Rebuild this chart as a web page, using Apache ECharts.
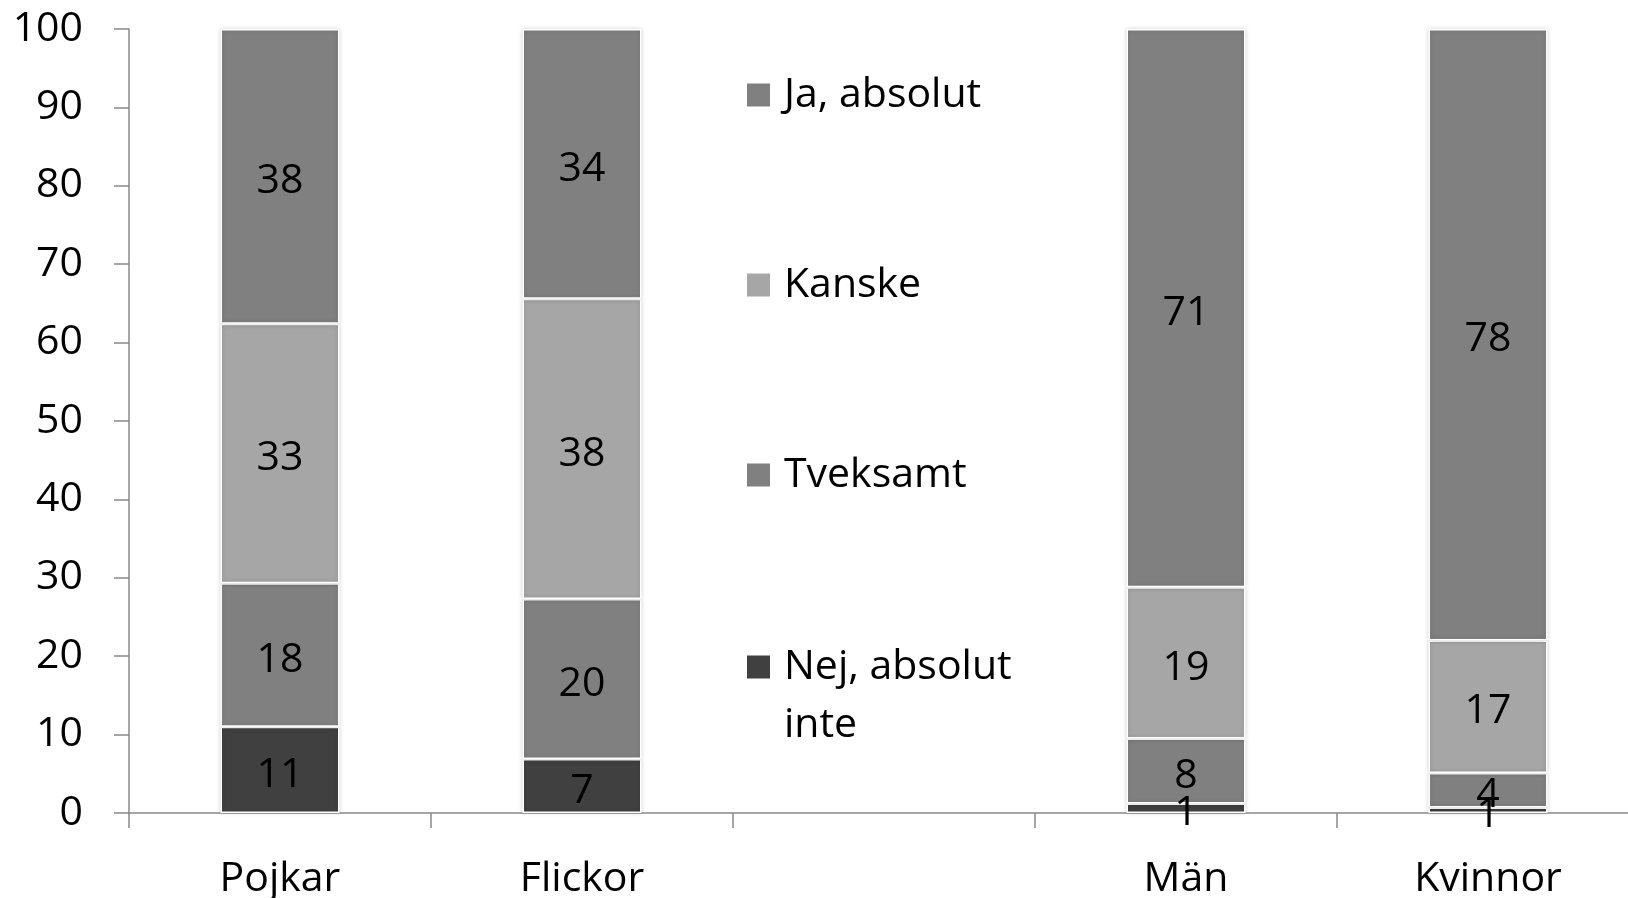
<!DOCTYPE html>
<html>
<head>
<meta charset="utf-8">
<script src="https://cdn.jsdelivr.net/npm/echarts@6/dist/echarts.min.js"></script>
<style>
  html, body { margin: 0; padding: 0; background: #fff; }
  #chart { width: 1628px; height: 898px; }
</style>
</head>
<body>
<div id="chart"></div>
<script>
const categories = ['Pojkar', 'Flickor', '', 'Män', 'Kvinnor']
// segment values, bottom to top (empty slot holds the legend)
const nejAbsolutInte = [11.0, 6.9, null, 1.2, 0.7]
const tveksamt = [18.3, 20.4, null, 8.3, 4.4]
const kanske = [33.1, 38.3, null, 19.3, 16.9]
const jaAbsolut = [37.6, 34.4, null, 71.2, 78.0]
const yTicks = [0, 10, 20, 30, 40, 50, 60, 70, 80, 90, 100]

const FONT = 'Open Sans'
const chart = echarts.init(document.getElementById('chart'))

const makeSeries = (name, data, color) => ({
  name,
  type: 'bar',
  stack: 'total',
  data,
  barWidth: 119,
  itemStyle: {
    color,
    borderColor: '#fff',
    borderWidth: 1.5,
    shadowBlur: 4,
    shadowColor: 'rgba(0,0,0,0.18)'
  },
  label: {
    show: true,
    position: 'inside',
    color: '#000',
    fontFamily: FONT,
    fontSize: 41,
    offset: [0, 5],
    formatter: p => Math.round(p.value)
  }
})

const legendText = { fontFamily: FONT, fontSize: 41, color: '#000', lineHeight: 58, padding: [0, 0, 0, 8] }

chart.setOption({
  animation: false,
  grid: { left: 129, top: 29, width: 1510, height: 784, outerBoundsMode: 'none' },
  legend: [
    {
      data: ['Ja, absolut', 'Kanske', 'Tveksamt'],
      orient: 'vertical',
      left: 745,
      top: 66,
      padding: 0,
      itemWidth: 25,
      itemHeight: 25,
      itemGap: 132,
      icon: 'rect',
      textStyle: legendText
    },
    {
      data: ['Nej, absolut inte'],
      orient: 'vertical',
      left: 745,
      top: 580,
      padding: 0,
      itemWidth: 25,
      itemHeight: 25,
      icon: 'rect',
      formatter: () => '\nNej, absolut\ninte',
      textStyle: legendText
    }
  ],
  xAxis: {
    type: 'category',
    data: categories,
    axisLine: { lineStyle: { color: '#898989', width: 1.5 } },
    axisTick: { show: true, length: 15, lineStyle: { color: '#898989', width: 1.5 } },
    axisLabel: { color: '#000', fontFamily: FONT, fontSize: 41, margin: 46 }
  },
  yAxis: {
    type: 'value',
    min: yTicks[0],
    max: yTicks[yTicks.length - 1],
    interval: 10,
    splitLine: { show: false },
    axisLine: { show: true, lineStyle: { color: '#898989', width: 1.5 } },
    axisTick: { show: true, length: 15, lineStyle: { color: '#898989', width: 1.5 } },
    axisLabel: { color: '#000', fontFamily: FONT, fontSize: 41, margin: 46 }
  },
  series: [
    makeSeries('Nej, absolut inte', nejAbsolutInte, '#404040'),
    makeSeries('Tveksamt', tveksamt, '#808080'),
    makeSeries('Kanske', kanske, '#a6a6a6'),
    makeSeries('Ja, absolut', jaAbsolut, '#808080')
  ]
})
</script>
</body>
</html>
